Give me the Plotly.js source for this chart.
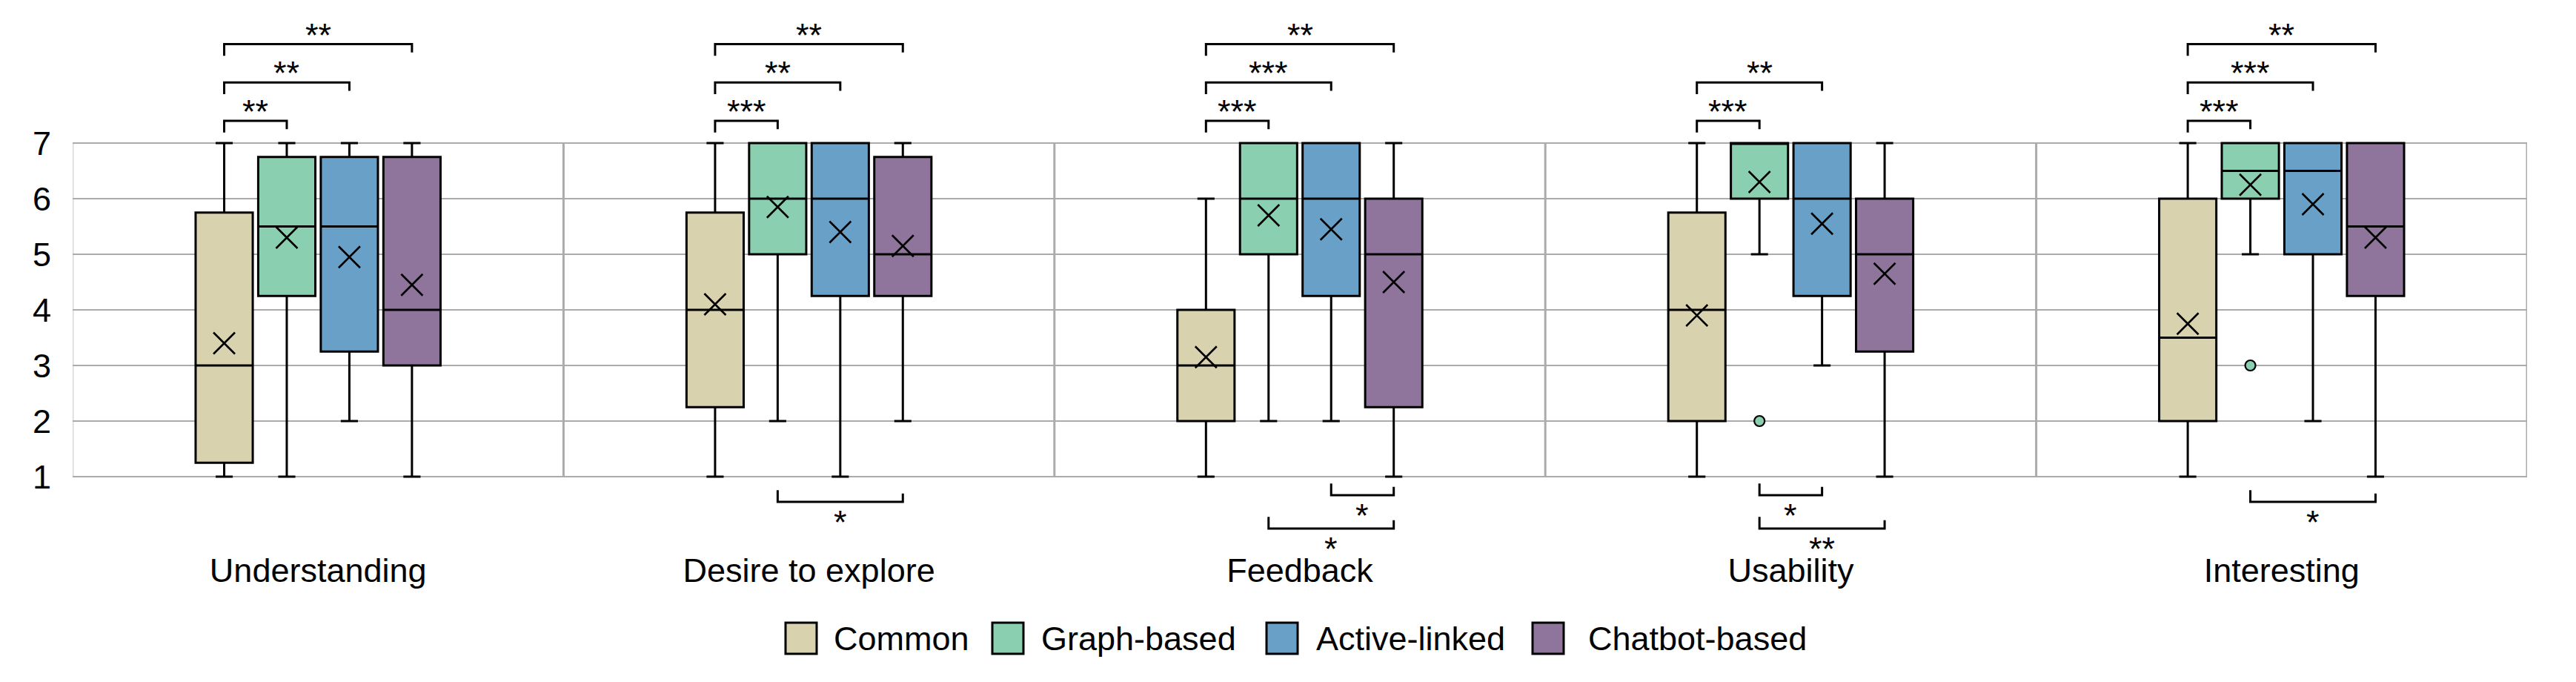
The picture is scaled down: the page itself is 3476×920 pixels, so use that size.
<!DOCTYPE html>
<html>
<head>
<meta charset="utf-8">
<script src="https://cdn.plot.ly/plotly-3.0.1.min.js"></script>
<style>html,body{margin:0;padding:0;background:#fff;}#chart{width:3476px;height:920px;}</style>
</head>
<body>
<div id="chart"></div>
<script>
// ---------------- DATA ----------------
const categories = ["Understanding", "Desire to explore", "Feedback", "Usability", "Interesting"];
const groups = ["Common", "Graph-based", "Active-linked", "Chatbot-based"];

const commonMin    = [1, 1, 1, 1, 1];
const commonQ1     = [1.25, 2.25, 2, 2, 2];
const commonMedian = [3, 4, 3, 4, 3.5];
const commonQ3     = [5.75, 5.75, 4, 5.75, 6];
const commonMax    = [7, 7, 6, 7, 7];
const commonMean   = [3.4, 4.1, 3.15, 3.9, 3.75];

const graphMin    = [1, 2, 2, 5, 5];
const graphQ1     = [4.25, 5, 5, 6, 6];
const graphMedian = [5.5, 6, 6, 7, 6.5];
const graphQ3     = [6.75, 7, 7, 7, 7];
const graphMax    = [7, 7, 7, 7, 7];
const graphMean   = [5.3, 5.85, 5.7, 6.3, 6.25];
const graphOutlierCats   = [3, 4];
const graphOutlierValues = [2, 3];

const activeMin    = [2, 1, 2, 3, 2];
const activeQ1     = [3.25, 4.25, 4.25, 4.25, 5];
const activeMedian = [5.5, 6, 6, 6, 6.5];
const activeQ3     = [6.75, 7, 7, 7, 7];
const activeMax    = [7, 7, 7, 7, 7];
const activeMean   = [4.95, 5.4, 5.45, 5.55, 5.9];

const chatbotMin    = [1, 2, 1, 1, 1];
const chatbotQ1     = [3, 4.25, 2.25, 3.25, 4.25];
const chatbotMedian = [4, 5, 5, 5, 5.5];
const chatbotQ3     = [6.75, 6.75, 6, 6, 7];
const chatbotMax    = [7, 7, 7, 7, 7];
const chatbotMean   = [4.45, 5.15, 4.5, 4.65, 5.3];

const yTicks = [1, 2, 3, 4, 5, 6, 7];

// significance: [category index, group A, group B, label]
const sigTop = [
  [0, 0, 1, "**"], [0, 0, 2, "**"], [0, 0, 3, "**"],
  [1, 0, 1, "***"], [1, 0, 2, "**"], [1, 0, 3, "**"],
  [2, 0, 1, "***"], [2, 0, 2, "***"], [2, 0, 3, "**"],
  [3, 0, 1, "***"], [3, 0, 2, "**"],
  [4, 0, 1, "***"], [4, 0, 2, "***"], [4, 0, 3, "**"]
];
const sigBottom = [
  [1, 1, 3, "*"],
  [2, 2, 3, "*"], [2, 1, 3, "*"],
  [3, 1, 2, "*"], [3, 1, 3, "**"],
  [4, 1, 3, "*"]
];
// ---------------- STYLE / LAYOUT ----------------
const colors = ["#D9D2AE", "#8ACFB0", "#68A0C8", "#8F749C"];
const FONT = "Liberation Sans, Arial, Helvetica, sans-serif";
const BOXGAP = 0.49, BOXGROUPGAP = 0.087;
const bottomLevels = [0.547, 0.667, 0.067, 0.667, 0.067, 0.547];

const catIdx = categories.map((c, i) => i);
function offs(j) { return (1 - BOXGAP) * (j - 1.5) / groups.length; }

const stats = [
  [commonMin, commonQ1, commonMedian, commonQ3, commonMax, commonMean],
  [graphMin, graphQ1, graphMedian, graphQ3, graphMax, graphMean],
  [activeMin, activeQ1, activeMedian, activeQ3, activeMax, activeMean],
  [chatbotMin, chatbotQ1, chatbotMedian, chatbotQ3, chatbotMax, chatbotMean]
];

const traces = [];
stats.forEach((s, j) => {
  traces.push({
    type: "box", name: groups[j], x: catIdx,
    lowerfence: s[0], q1: s[1], median: s[2], q3: s[3], upperfence: s[4],
    fillcolor: colors[j], line: {color: "#000", width: 3},
    whiskerwidth: 0.3, boxpoints: false, showlegend: false, hoverinfo: "skip"
  });
});
stats.forEach((s, j) => {
  traces.push({
    type: "scatter", mode: "markers", name: groups[j] + " mean",
    x: catIdx.map(i => i + offs(j)), y: s[5],
    marker: {symbol: "x-thin", size: 29, color: "#000", line: {color: "#000", width: 2.6}},
    showlegend: false, hoverinfo: "skip"
  });
});
traces.push({
  type: "scatter", mode: "markers", name: "Graph-based outliers",
  x: graphOutlierCats.map(i => i + offs(1)), y: graphOutlierValues,
  marker: {symbol: "circle", size: 14, color: colors[1], line: {color: "#000", width: 2.2}},
  showlegend: false, hoverinfo: "skip"
});

const shapes = [];
const annotations = [];
// category separators and frame
for (let k = 0; k <= categories.length; k++) {
  shapes.push({type: "line", xref: "x", yref: "y", x0: k - 0.5, x1: k - 0.5, y0: 1, y1: 7,
    line: {color: k === 0 ? "#D9D9D9" : "#ABABAB", width: 3}, layer: "below"});
}
// top brackets
const TOP0 = 7.4, TOPSTEP = 0.69, LT = 0.21, RT = 0.15;
sigTop.forEach(b => {
  const [c, a, z, lab] = b;
  const level = TOP0 + (z - 1) * TOPSTEP;
  const xa = c + offs(a), xb = c + offs(z);
  shapes.push({type: "path", xref: "x", yref: "y",
    path: `M${xa},${level - LT} L${xa},${level} L${xb},${level} L${xb},${level - RT}`,
    line: {color: "#000", width: 3}});
  annotations.push({x: (xa + xb) / 2, y: level, xref: "x", yref: "y", text: lab, showarrow: false,
    yanchor: "bottom", yshift: -15, font: {family: FONT, size: 45, color: "#000"}});
});
// bottom brackets
sigBottom.forEach((b, k) => {
  const [c, a, z, lab] = b;
  const level = bottomLevels[k];
  const xa = c + offs(a), xb = c + offs(z);
  shapes.push({type: "path", xref: "x", yref: "y",
    path: `M${xa},${level + LT} L${xa},${level} L${xb},${level} L${xb},${level + RT}`,
    line: {color: "#000", width: 3}});
  annotations.push({x: (xa + xb) / 2, y: level, xref: "x", yref: "y", text: lab, showarrow: false,
    yanchor: "top", yshift: 0, font: {family: FONT, size: 45, color: "#000"}});
});
// custom legend
const W = 3476, H = 920, ML = 98, MR = 66, PW = W - ML - MR;
const legSq = [1060, 1339, 1709, 2068];
const legTx = [1123, 1403, 1774, 2141];
function px(v) { return (v - ML) / PW; }
function py(v) { return (H - v) / H; }
groups.forEach((g, j) => {
  shapes.push({type: "rect", xref: "paper", yref: "paper",
    x0: px(legSq[j]), x1: px(legSq[j] + 42), y0: py(882), y1: py(840),
    fillcolor: colors[j], line: {color: "#000", width: 3}});
  annotations.push({x: px(legTx[j]), y: py(861), xref: "paper", yref: "paper", text: g,
    showarrow: false, xanchor: "left", yanchor: "middle", font: {family: FONT, size: 45, color: "#000"}});
});

const layout = {
  width: W, height: H,
  margin: {l: ML, r: MR, t: 0, b: 0},
  paper_bgcolor: "#fff", plot_bgcolor: "#fff",
  font: {family: FONT, size: 45, color: "#000"},
  boxmode: "group", boxgap: BOXGAP, boxgroupgap: BOXGROUPGAP,
  showlegend: false,
  xaxis: {
    range: [-0.5, categories.length - 0.5], tickvals: catIdx, ticktext: categories,
    showgrid: false, zeroline: false, showline: false, ticks: "",
    anchor: "free", position: 0.197, tickfont: {family: FONT, size: 45, color: "#000"}
  },
  yaxis: {
    range: [1 - 277 / 75, 7 + 193 / 75], tickvals: yTicks, ticktext: yTicks.map(String),
    showgrid: true, gridcolor: "#ABABAB", gridwidth: 2.6, zeroline: false, showline: false,
    ticks: "", ticklabelstandoff: 28, tickfont: {family: FONT, size: 45, color: "#000"}
  },
  shapes: shapes, annotations: annotations
};

Plotly.newPlot("chart", traces, layout, {displayModeBar: false, staticPlot: true});
</script>
</body>
</html>
